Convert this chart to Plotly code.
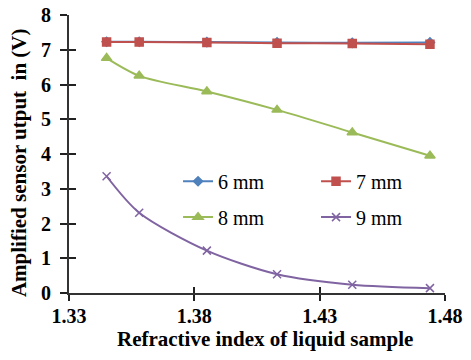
import plotly.graph_objects as go

# Refractive index of each liquid sample
refractive_index = [1.345, 1.358, 1.385, 1.413, 1.443, 1.474]

# Amplified sensor output (V) at each fibre gap
out_6mm = [7.23, 7.23, 7.22, 7.21, 7.20, 7.21]
out_7mm = [7.22, 7.22, 7.21, 7.19, 7.18, 7.16]
out_8mm = [6.76, 6.25, 5.80, 5.27, 4.62, 3.95]
out_9mm = [3.36, 2.31, 1.22, 0.54, 0.24, 0.14]

x_ticks = [1.33, 1.38, 1.43, 1.48]
y_ticks = [0, 1, 2, 3, 4, 5, 6, 7, 8]

SERIF = "Times New Roman, Liberation Serif, serif"

# name, values, colour, marker symbol, marker size, legend slot (x, y in paper units)
series = [
    ("6 mm", out_6mm, "#4F81BD", "diamond", 7, "legend", 0.29, 0.402),
    ("7 mm", out_7mm, "#C0504D", "square", 8, "legend2", 0.657, 0.402),
    ("8 mm", out_8mm, "#9BBB59", "triangle-up", 9, "legend3", 0.29, 0.273),
    ("9 mm", out_9mm, "#8064A2", "x-thin", 8, "legend4", 0.657, 0.273),
]

fig = go.Figure()
legends = {}
for name, vals, color, symbol, size, leg, lx, ly in series:
    fig.add_trace(go.Scatter(
        x=refractive_index, y=vals, name=name, mode="lines+markers",
        line=dict(color=color, width=2, shape="spline", smoothing=0.8),
        marker=dict(color=color, symbol=symbol, size=size,
                    line=dict(color=color, width=1.5)),
        legend=leg,
    ))
    legends[leg] = dict(x=lx, y=ly, xanchor="left", yanchor="middle",
                        font=dict(family=SERIF, size=20),
                        bgcolor="rgba(0,0,0,0)", borderwidth=0)

# empty trace carrying the inward half of the crossing tick marks
fig.add_trace(go.Scatter(x=[], y=[], xaxis="x2", yaxis="y2", showlegend=False))

axis_common = dict(showgrid=False, zeroline=False, color="black", automargin=False)
bold_title = dict(family=SERIF, size=21, weight="bold", color="black")

fig.update_layout(
    width=471, height=360,
    margin=dict(l=69, r=26, t=15, b=67, autoexpand=False),
    paper_bgcolor="white", plot_bgcolor="white",
    font=dict(family=SERIF, color="black"),
    xaxis=dict(
        range=[1.33, 1.48], tickvals=x_ticks, ticktext=[f"{v:.2f}" for v in x_ticks],
        ticks="outside", ticklen=6, tickwidth=1.5, tickcolor="#222",
        showline=True, linecolor="#333", linewidth=2,
        tickfont=dict(family=SERIF, size=20, weight="bold"),
        ticklabelstandoff=-2,
        **axis_common,
    ),
    yaxis=dict(
        range=[0, 8], tickvals=y_ticks,
        ticks="outside", ticklen=7, tickwidth=1.5, tickcolor="#222",
        showline=True, linecolor="#333", linewidth=2,
        tickfont=dict(family=SERIF, size=20, weight="bold"),
        ticklabelstandoff=5,
        **axis_common,
    ),
    xaxis2=dict(range=[1.33, 1.48], tickvals=x_ticks, ticks="inside", ticklen=6,
                tickwidth=1.5, tickcolor="#222", showticklabels=False,
                overlaying="x", anchor="y2", **axis_common),
    yaxis2=dict(range=[0, 8], tickvals=y_ticks, ticks="inside", ticklen=7,
                tickwidth=1.5, tickcolor="#222", showticklabels=False,
                overlaying="y", anchor="x2", **axis_common),
    annotations=[
        dict(text="Refractive index of liquid sample", xref="paper", yref="paper",
             x=0.521, y=-0.165, xanchor="center", yanchor="middle",
             showarrow=False, font=bold_title),
        dict(text="Amplified sensor utput  in (V)", xref="paper", yref="paper",
             x=-0.133, y=0.471, xanchor="center", yanchor="middle", textangle=-90,
             showarrow=False, font=bold_title),
    ],
    showlegend=True,
    **legends,
)

fig.write_html("out.html")
